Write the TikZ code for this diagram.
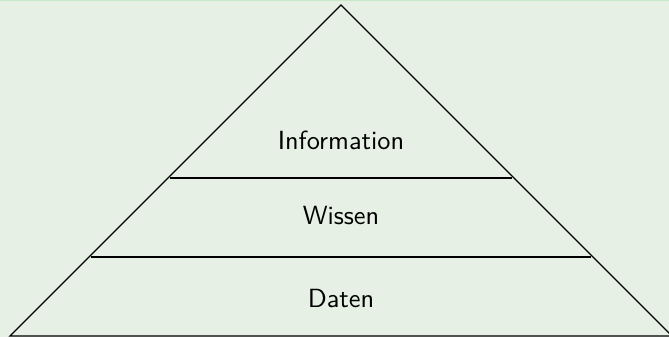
\documentclass[tikz,border=0pt]{standalone}
\definecolor{bggreen}{RGB}{230,240,228}
\definecolor{framegreen}{RGB}{200,232,200}
\begin{document}
\begin{tikzpicture}
[line width=0.5pt, every node/.style={font=\sffamily}]
  \useasboundingbox (0,0) rectangle (8.944,4.505);
  \fill[bggreen] (0,0) rectangle (8.944,4.505);
  \draw[framegreen] (0,4.495) -- (8.944,4.495);

  \draw (0.134,0.013) -- (4.559,4.438) -- (8.984,0.013) -- cycle;

  \draw (2.275,2.126) -- (6.843,2.126);
  \draw (1.218,1.069) -- (7.900,1.069);

  \node (info) at (4.559,2.634) {Information};
  \node (wissen) at (4.559,1.618) {Wissen};
  \node (daten) at (4.559,0.520) {Daten};
\end{tikzpicture}
\end{document}
